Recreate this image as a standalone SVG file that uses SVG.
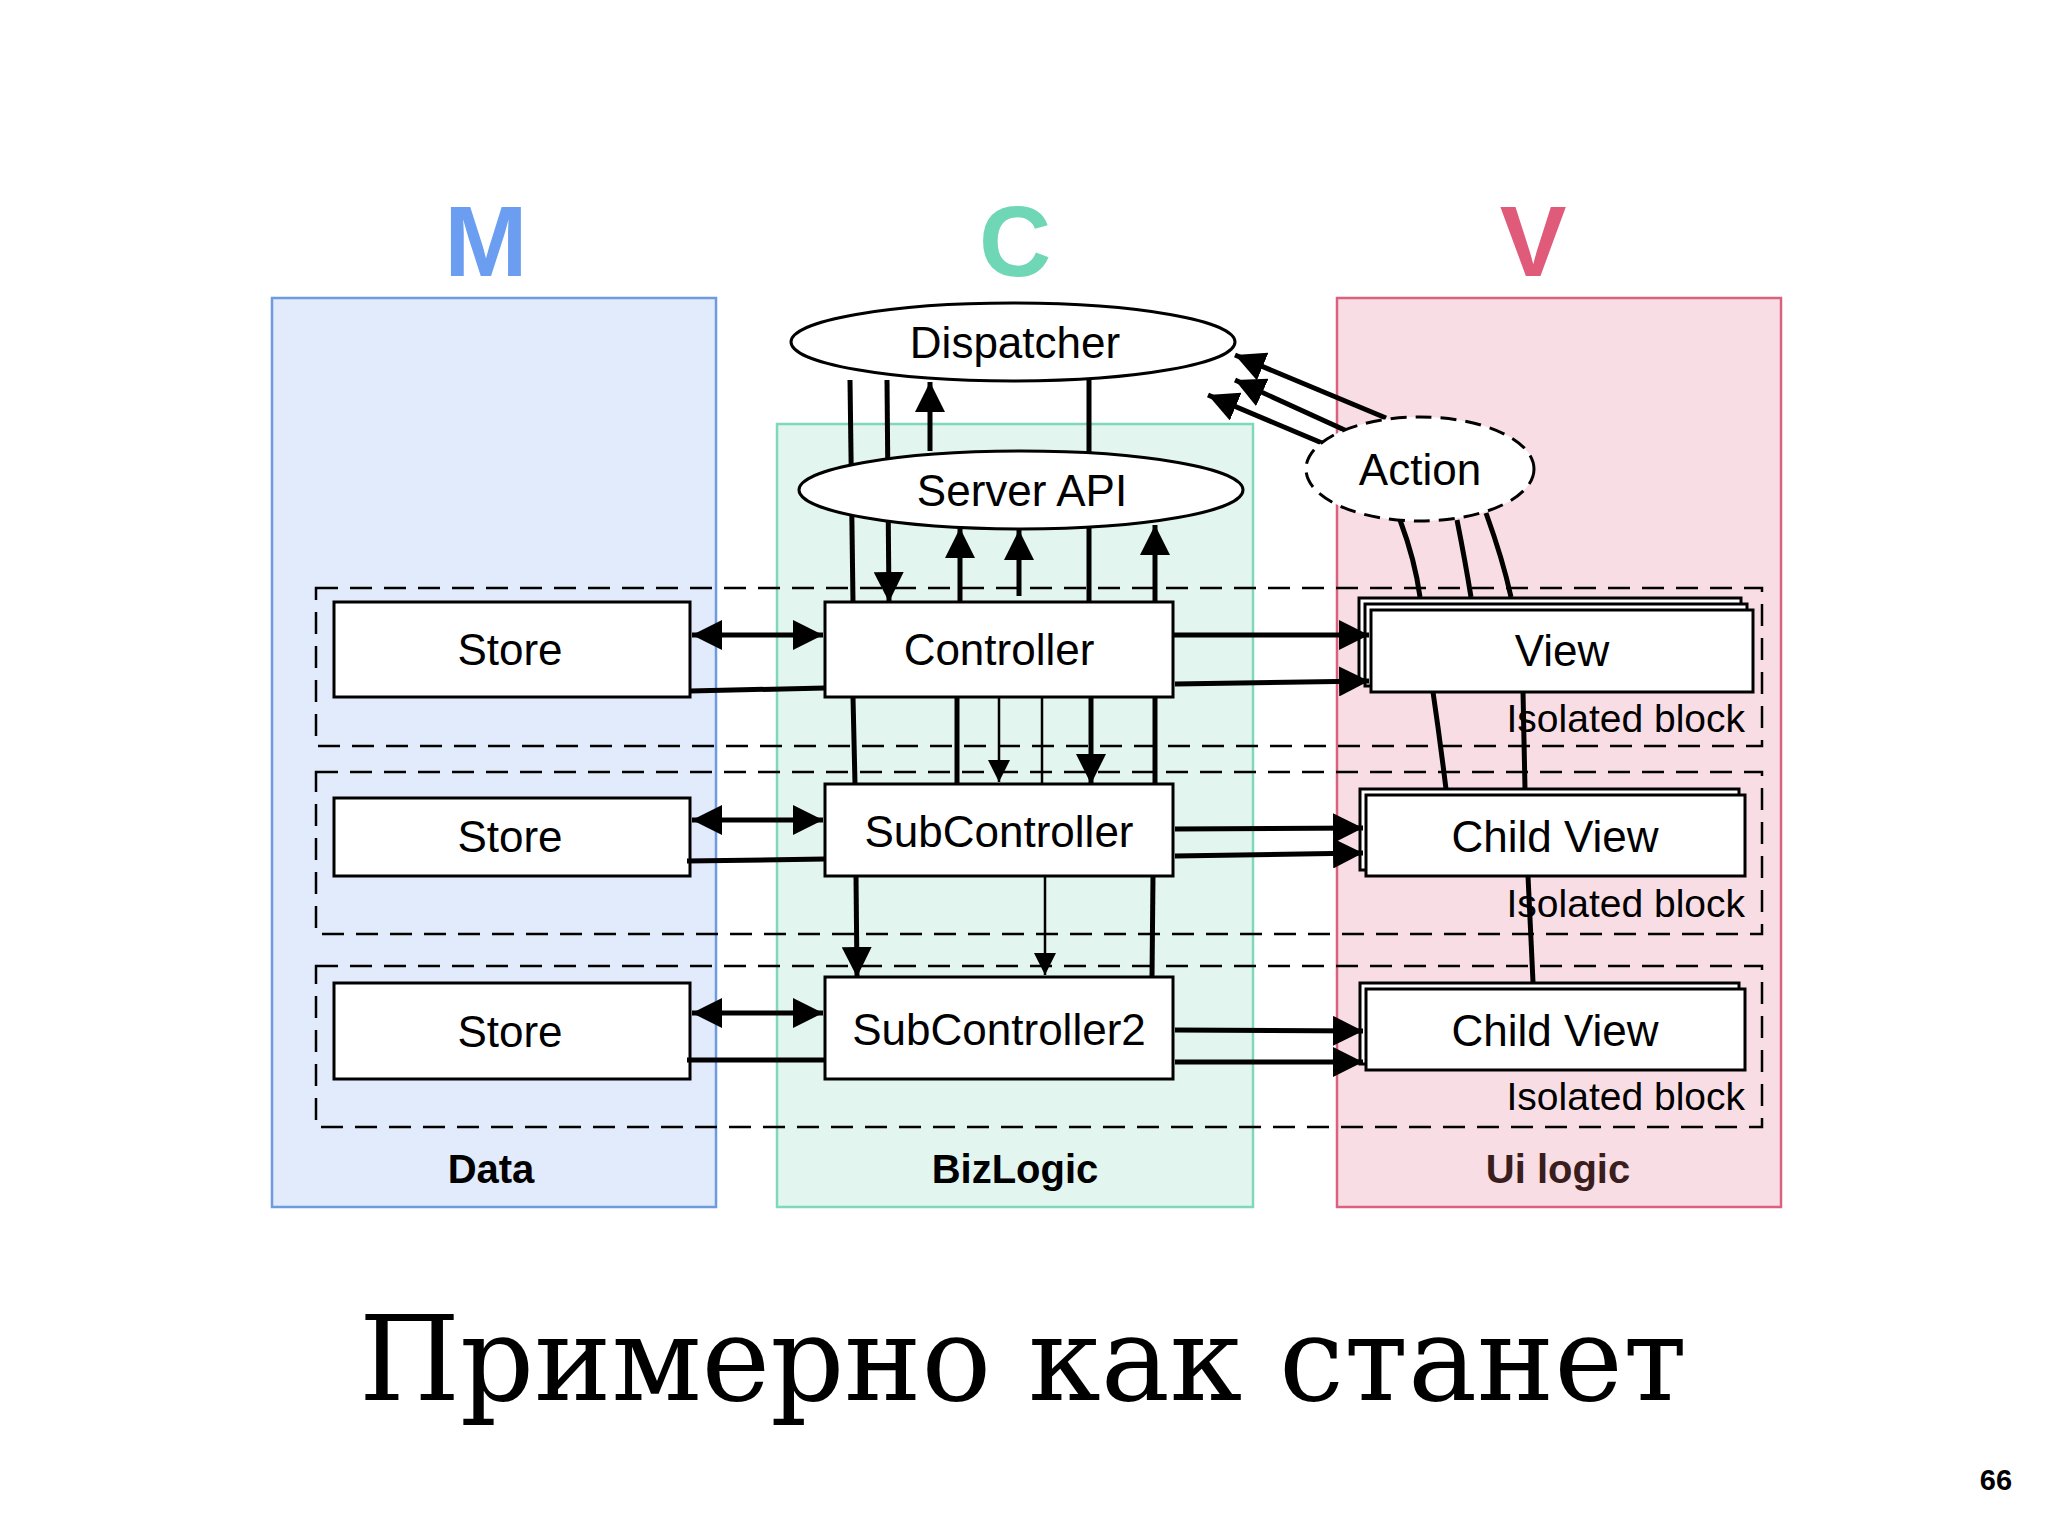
<svg xmlns="http://www.w3.org/2000/svg" width="2048" height="1536" viewBox="0 0 2048 1536">
<defs>
<marker id="a" viewBox="0 0 10 10" refX="10" refY="5" markerWidth="6" markerHeight="6" orient="auto-start-reverse" markerUnits="strokeWidth"><path d="M0,0L10,5L0,10z" fill="#000"/></marker>
<marker id="b" viewBox="0 0 10 10" refX="10" refY="5" markerWidth="9" markerHeight="9" orient="auto-start-reverse" markerUnits="strokeWidth"><path d="M0,0L10,5L0,10z" fill="#000"/></marker>
</defs>
<style>
text{font-family:"Liberation Sans",Arial,sans-serif}
.n{fill:#fff;stroke:#000;stroke-width:3}
.t{font-size:44px;text-anchor:middle}
.iso{font-size:39px;text-anchor:end}
.row{fill:none;stroke:#000;stroke-width:2.5;stroke-dasharray:22 12}
.c line,.c path{stroke:#000;stroke-width:5;fill:none}
.c .th{stroke-width:2.5}
.big{font-size:100px;font-weight:bold;text-anchor:middle}
.lab{font-size:40px;font-weight:bold;text-anchor:middle}
</style>
<rect width="2048" height="1536" fill="#fff"/>
<g id="model"><rect x="272" y="298" width="444" height="909" fill="#e1ebfb" stroke="#6e9be0" stroke-width="2.5"/><text class="big" x="486" y="276" fill="#6b9ef0">M</text><text class="lab" x="491" y="1183">Data</text></g>
<g id="controllerzone"><rect x="777" y="424" width="476" height="783" fill="#e2f5ef" stroke="#7fd8b9" stroke-width="2.5"/><text class="big" x="1015" y="276" fill="#6fd6b6">C</text><text class="lab" x="1015" y="1183">BizLogic</text></g>
<g id="viewzone"><rect x="1337" y="298" width="444" height="909" fill="#f9dde5" stroke="#d9627f" stroke-width="2.5"/><text class="big" x="1533" y="276" fill="#e05a7a">V</text><text class="lab" x="1558" y="1183" fill="#3a1d1d">Ui logic</text></g>
<g id="rows"><rect class="row" x="316" y="588" width="1446" height="158"/><rect class="row" x="316" y="772" width="1446" height="162"/><rect class="row" x="316" y="966" width="1446" height="161"/></g>
<g id="store1"><rect class="n" x="334" y="602" width="356" height="95"/><text class="t" x="510" y="665">Store</text></g>
<g id="store2"><rect class="n" x="334" y="798" width="356" height="78"/><text class="t" x="510" y="852">Store</text></g>
<g id="store3"><rect class="n" x="334" y="983" width="356" height="96"/><text class="t" x="510" y="1047">Store</text></g>
<g id="controller"><rect class="n" x="825" y="602" width="348" height="95"/><text class="t" x="999" y="665">Controller</text></g>
<g id="subcontroller"><rect class="n" x="825" y="784" width="348" height="92"/><text class="t" x="999" y="847">SubController</text></g>
<g id="subcontroller2"><rect class="n" x="825" y="977" width="348" height="102"/><text class="t" x="999" y="1045">SubController2</text></g>
<g id="view"><rect class="n" x="1359" y="598" width="382" height="82"/><rect class="n" x="1365" y="604" width="382" height="82"/><rect class="n" x="1371" y="610" width="382" height="82"/><text class="t" x="1562" y="666">View</text><text class="iso" x="1745" y="732">Isolated block</text></g>
<g id="childview1"><rect class="n" x="1360" y="789" width="379" height="81"/><rect class="n" x="1366" y="795" width="379" height="81"/><text class="t" x="1555" y="852">Child View</text><text class="iso" x="1745" y="917">Isolated block</text></g>
<g id="childview2"><rect class="n" x="1360" y="983" width="379" height="81"/><rect class="n" x="1366" y="989" width="379" height="81"/><text class="t" x="1555" y="1046">Child View</text><text class="iso" x="1745" y="1110">Isolated block</text></g>
<g class="c" id="connectors">
<line x1="850" y1="380" x2="853" y2="602"/>
<line x1="887" y1="380" x2="889" y2="602" marker-end="url(#a)"/>
<line x1="930" y1="451" x2="930" y2="382" marker-end="url(#a)"/>
<line x1="1089" y1="380" x2="1089" y2="602"/>
<line x1="960" y1="602" x2="960" y2="528" marker-end="url(#a)"/>
<line x1="1019" y1="596" x2="1019" y2="530" marker-end="url(#a)"/>
<line x1="1155" y1="602" x2="1155" y2="525" marker-end="url(#a)"/>
<line x1="853" y1="697" x2="855" y2="784"/>
<line x1="957" y1="697" x2="957" y2="784"/>
<line class="th" x1="999" y1="697" x2="999" y2="782" marker-end="url(#b)"/>
<line class="th" x1="1042" y1="697" x2="1042" y2="784"/>
<line x1="1091" y1="697" x2="1091" y2="784" marker-end="url(#a)"/>
<line x1="1155" y1="697" x2="1155" y2="784"/>
<line x1="856" y1="876" x2="857" y2="977" marker-end="url(#a)"/>
<line class="th" x1="1045" y1="876" x2="1045" y2="975" marker-end="url(#b)"/>
<line x1="1153" y1="876" x2="1152" y2="977"/>
<line x1="692" y1="635" x2="823" y2="635" marker-start="url(#a)" marker-end="url(#a)"/>
<line x1="690" y1="691" x2="825" y2="688"/>
<line x1="692" y1="820" x2="823" y2="820" marker-start="url(#a)" marker-end="url(#a)"/>
<line x1="687" y1="861" x2="825" y2="859"/>
<line x1="692" y1="1013" x2="823" y2="1013" marker-start="url(#a)" marker-end="url(#a)"/>
<line x1="687" y1="1060" x2="825" y2="1060"/>
<line x1="1173" y1="635" x2="1369" y2="635" marker-end="url(#a)"/>
<line x1="1175" y1="684" x2="1369" y2="681" marker-end="url(#a)"/>
<line x1="1175" y1="829" x2="1363" y2="828" marker-end="url(#a)"/>
<line x1="1175" y1="856" x2="1363" y2="853" marker-end="url(#a)"/>
<line x1="1175" y1="1030" x2="1363" y2="1031" marker-end="url(#a)"/>
<line x1="1175" y1="1062" x2="1363" y2="1062" marker-end="url(#a)"/>
<line x1="1386" y1="418" x2="1235" y2="355" marker-end="url(#a)"/>
<line x1="1349" y1="432" x2="1235" y2="380" marker-end="url(#a)"/>
<line x1="1322" y1="443" x2="1208" y2="395" marker-end="url(#a)"/>
<path d="M1400,520Q1415,560 1420,597"/>
<path d="M1457,520Q1465,560 1471,597"/>
<path d="M1486,513Q1503,560 1511,597"/>
<path d="M1433,692Q1440,740 1446,789"/>
<line x1="1523" y1="692" x2="1525" y2="789"/>
<line x1="1528" y1="876" x2="1533" y2="982"/>
</g>
<g id="dispatcher"><ellipse class="n" cx="1013" cy="342" rx="222" ry="39"/><text class="t" x="1015" y="358">Dispatcher</text></g>
<g id="serverapi"><ellipse class="n" cx="1021" cy="490" rx="222" ry="39"/><text class="t" x="1022" y="506">Server API</text></g>
<g id="action"><ellipse class="n" cx="1420" cy="469" rx="114" ry="52" stroke-dasharray="16 9"/><text class="t" x="1420" y="485">Action</text></g>
<text x="1023" y="1400" font-size="118" text-anchor="middle" textLength="1328" lengthAdjust="spacingAndGlyphs" style="font-family:'DejaVu Serif','Liberation Serif',serif">Примерно как станет</text>
<text x="1996" y="1490" font-size="29" font-weight="bold" text-anchor="middle">66</text>
</svg>
